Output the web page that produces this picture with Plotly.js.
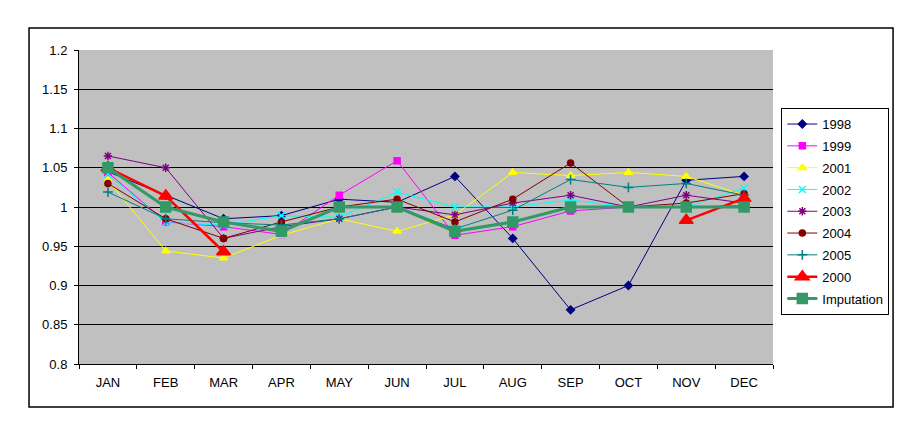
<!DOCTYPE html>
<html>
<head>
<meta charset="utf-8">
<script src="https://cdn.plot.ly/plotly-3.0.1.min.js"></script>
<style>html,body{margin:0;padding:0;background:#fff;}#chart{width:922px;height:427px;}</style>
</head>
<body>
<div id="chart"></div>
<script>
const months = ["JAN","FEB","MAR","APR","MAY","JUN","JUL","AUG","SEP","OCT","NOV","DEC"];
const yTickVals = [0.8,0.85,0.9,0.95,1,1.05,1.1,1.15,1.2];
const yTickText = ["0.8","0.85","0.9","0.95","1","1.05","1.1","1.15","1.2"];

const s1998 = [1.045,1.015,0.985,0.989,1.010,1.006,1.039,0.960,0.869,0.900,1.034,1.039];
const s1999 = [1.044,0.981,0.975,0.965,1.015,1.059,0.964,0.975,0.995,1.000,1.000,1.002];
const s2001 = [1.034,0.944,0.935,0.964,0.985,0.969,0.990,1.044,1.040,1.044,1.039,1.015];
const s2002 = [1.042,0.980,0.977,0.989,0.987,1.019,1.000,1.000,1.009,1.000,1.000,1.024];
const s2003 = [1.065,1.050,0.960,0.975,0.985,1.000,0.990,1.005,1.015,1.000,1.015,1.005];
const s2004 = [1.030,0.985,0.960,0.981,1.000,1.010,0.981,1.010,1.056,1.000,1.005,1.017];
const s2005 = [1.019,0.985,0.980,0.977,0.985,1.000,0.972,0.996,1.035,1.025,1.030,1.015];
const s2000 = [1.050,1.014,0.943,null,null,null,null,null,null,null,0.983,1.011];
const sImput = [1.050,1.000,0.981,0.969,1.000,1.000,0.969,0.981,1.000,1.000,1.000,1.000];

const names = ["1998","1999","2001","2002","2003","2004","2005","2000","Imputation"];
const seriesList = [s1998,s1999,s2001,s2002,s2003,s2004,s2005,s2000,sImput];
const colors = ["#000080","#FF00FF","#FFFF00","#00FFFF","#800080","#800000","#008080","#FF0000","#339966"];
const symbols = ["diamond","square","triangle-up","x-thin-open","asterisk-open","circle","cross-thin-open","triangle-up","square"];
const msizes = [6,6,7,7,7,6,7,12,10];
const lwidths = [1,1,1,1,1,1,1,2.5,3];

const traces = seriesList.map((ys,i)=>({
  type:"scatter", mode:"lines+markers", name:names[i], x:months, y:ys,
  legendgroup:"g"+i,
  connectgaps:false,
  line:{color:colors[i], width:lwidths[i]},
  marker:{symbol:symbols[i], size:msizes[i], color:colors[i], line:{color:colors[i], width:1.5}}
}));

const layout = {
  width:922, height:427,
  margin:{l:79, r:149, t:50, b:63},
  paper_bgcolor:"#ffffff", plot_bgcolor:"#c0c0c0",
  font:{family:"Liberation Sans, Arial, sans-serif", size:13, color:"#000"},
  showlegend:true,
  legend:{x:1.012, y:0.815, xanchor:"left", yanchor:"top", bgcolor:"#fff",
          bordercolor:"#000", borderwidth:1, font:{size:13}, tracegroupgap:1.9,
          traceorder:"grouped", itemwidth:30},
  xaxis:{type:"category", range:[-0.5,11.5], showgrid:false, zeroline:false,
         showline:true, linecolor:"#000", linewidth:1, ticks:"outside", ticklen:4,
         tickcolor:"#000", tickson:"boundaries", tickfont:{size:13}, mirror:false,
         ticklabelstandoff:6},
  yaxis:{range:[0.8,1.2], tickvals:yTickVals, ticktext:yTickText, showgrid:true,
         gridcolor:"#000", gridwidth:1, zeroline:false, showline:true, linecolor:"#000",
         linewidth:1, ticks:"outside", ticklen:4, tickcolor:"#000", tickfont:{size:13},
         ticklabelstandoff:4},
  shapes:[{type:"rect", xref:"paper", yref:"paper", x0:-0.072, x1:1.173, y0:-0.137, y1:1.070,
           line:{color:"#000", width:1.5}, fillcolor:"rgba(0,0,0,0)", layer:"below"}]
};

Plotly.newPlot("chart", traces, layout, {displayModeBar:false, staticPlot:true});
</script>
</body>
</html>
